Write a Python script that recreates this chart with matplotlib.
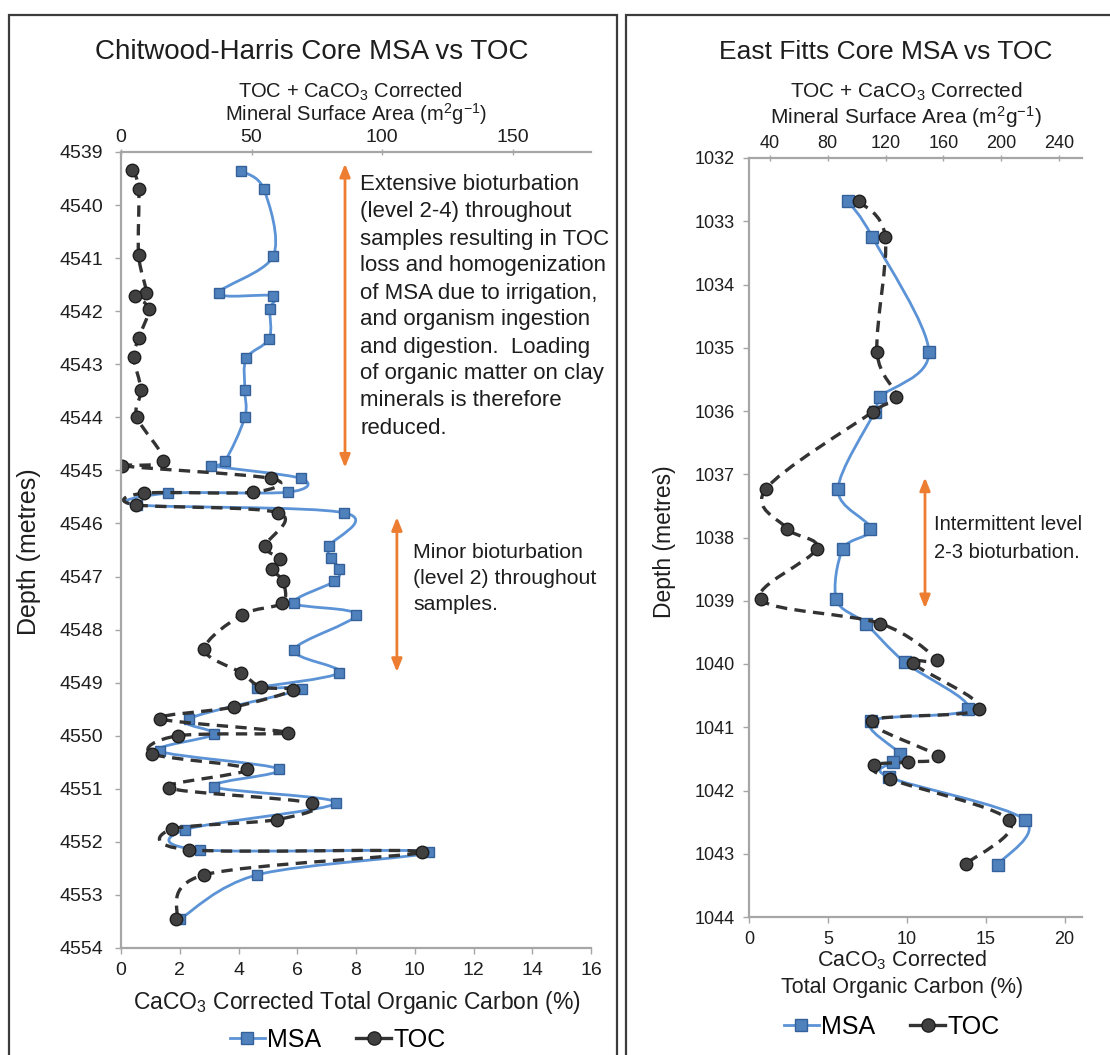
import numpy as np
import matplotlib
matplotlib.use('Agg')
import matplotlib.pyplot as plt
from matplotlib.path import Path
from matplotlib.patches import PathPatch, Rectangle
from matplotlib.lines import Line2D

plt.rcParams['font.family'] = ['Liberation Sans', 'DejaVu Sans']
plt.rcParams['mathtext.fontset'] = 'custom'
plt.rcParams['mathtext.rm'] = 'Liberation Sans'
plt.rcParams['mathtext.it'] = 'Liberation Sans:italic'

# ---------------- Data: Chitwood-Harris core ----------------
ch_msa_depth = [4539.35, 4539.70, 4540.96, 4541.66, 4541.71, 4541.96, 4542.52, 4542.89,
                4543.48, 4544.00, 4544.83, 4544.91, 4545.15, 4545.41, 4545.43, 4545.65,
                4545.80, 4546.43, 4546.65, 4546.86, 4547.09, 4547.50, 4547.72, 4548.38,
                4548.81, 4549.10, 4549.12, 4549.68, 4549.97, 4550.29, 4550.63, 4550.96,
                4551.27, 4551.77, 4552.15, 4552.19, 4552.62, 4553.45]
ch_msa = [45.8, 54.7, 58.3, 37.4, 58.3, 57.0, 56.7, 48.0,
          47.4, 47.4, 39.7, 34.6, 68.8, 64.0, 18.0, 6.0,
          85.5, 79.7, 80.4, 83.6, 81.7, 66.3, 90.0, 66.3,
          83.6, 52.2, 69.5, 25.9, 35.5, 15.0, 60.5, 35.5,
          82.3, 24.6, 30.4, 118.1, 52.2, 22.7]
ch_toc_depth = [4539.33, 4539.70, 4540.94, 4541.66, 4541.71, 4541.96, 4542.51, 4542.87,
                4543.48, 4543.99, 4544.82, 4544.91, 4545.15, 4545.41, 4545.43, 4545.65,
                4545.80, 4546.43, 4546.67, 4546.86, 4547.09, 4547.50, 4547.72, 4548.37,
                4548.81, 4549.08, 4549.14, 4549.46, 4549.68, 4549.94, 4550.00, 4550.34,
                4550.63, 4550.98, 4551.27, 4551.58, 4551.76, 4552.15, 4552.19, 4552.62,
                4553.45]
ch_toc = [0.37, 0.60, 0.60, 0.86, 0.49, 0.94, 0.60, 0.43,
          0.68, 0.54, 1.43, 0.02, 5.10, 4.51, 0.77, 0.52,
          5.36, 4.91, 5.42, 5.14, 5.51, 5.48, 4.12, 2.84,
          4.08, 4.77, 5.85, 3.83, 1.34, 5.67, 1.94, 1.05,
          4.29, 1.62, 6.49, 5.31, 1.73, 2.33, 10.25, 2.84,
          1.88]

# ---------------- Data: East Fitts core ----------------
ef_msa_depth = [1032.68, 1033.25, 1035.06, 1035.78, 1036.01, 1037.24, 1037.86, 1038.18,
                1038.98, 1039.36, 1039.97, 1040.71, 1040.90, 1041.42, 1041.55, 1041.79,
                1042.46, 1043.17]
ef_msa = [94.0, 110.9, 150.0, 115.9, 112.5, 87.1, 109.5, 90.5,
          86.0, 106.2, 133.2, 177.0, 110.2, 129.8, 125.1, 122.4,
          216.3, 197.8]
ef_toc_depth = [1032.68, 1033.25, 1035.06, 1035.78, 1036.01, 1037.24, 1037.86, 1038.18,
                1038.98, 1039.36, 1039.94, 1039.99, 1040.71, 1040.90, 1041.46, 1041.55,
                1041.60, 1041.82, 1042.47, 1043.16]
ef_toc = [6.95, 8.64, 8.11, 9.33, 7.86, 1.05, 2.43, 4.28,
          0.74, 8.32, 11.9, 10.4, 14.6, 7.8, 12.0, 10.1,
          7.9, 8.95, 16.5, 13.75]

ch_yticks = list(range(4539, 4555))
ch_xticks = list(range(0, 17, 2))
ch_top_ticks = [0, 50, 100, 150]
ef_yticks = list(range(1032, 1045))
ef_xticks = [0, 5, 10, 15, 20]
ef_top_ticks = [40, 80, 120, 160, 200, 240]

note1 = ["Extensive bioturbation", "(level 2-4) throughout", "samples resulting in TOC",
         "loss and homogenization", "of MSA due to irrigation,", "and organism ingestion",
         "and digestion.  Loading", "of organic matter on clay", "minerals is therefore",
         "reduced."]
note2 = ["Minor bioturbation", "(level 2) throughout", "samples."]
note3 = ["Intermittent level", "2-3 bioturbation."]

# ---------------- Styles ----------------
W, H = 1110, 1055
BLUE_LINE = '#5B93D6'
BLUE_FILL = '#4F81BD'
BLUE_EDGE = '#35619A'
DARK_FILL = '#404040'
DARK_EDGE = '#1E1E1E'
DARK_LINE = '#333333'
SPINE = '#A6A6A6'
ORANGE = '#ED7D31'
TXT = '#1E1E1E'

fig = plt.figure(figsize=(W / 100, H / 100), dpi=100)


def fx(x):
    return x / W


def fy(y):
    return 1 - y / H


def smooth_path(xs, ys):
    P = np.column_stack([xs, ys]).astype(float)
    n = len(P)
    verts = [P[0]]
    codes = [Path.MOVETO]
    for i in range(n - 1):
        p0 = P[i - 1] if i > 0 else P[i]
        p1 = P[i]
        p2 = P[i + 1]
        p3 = P[i + 2] if i + 2 < n else P[i + 1]
        verts += [p1 + (p2 - p0) / 6.0, p2 - (p3 - p1) / 6.0, p2]
        codes += [Path.CURVE4] * 3
    return Path(verts, codes)


def make_panel(rect_px, ylim, xlim, xlim_top, yticks, xticks, top_ticks,
               msa_d, msa_v, toc_d, toc_v, ms_sq, ms_c, lsize, ypad):
    x0, y0, x1, y1 = rect_px
    ax = fig.add_axes([fx(x0), fy(y1), (x1 - x0) / W, (y1 - y0) / H])
    axt = ax.twiny()
    ax.set_zorder(axt.get_zorder() + 1)
    ax.patch.set_visible(False)
    ax.set_ylim(*ylim)
    ax.set_xlim(*xlim)
    axt.set_xlim(*xlim_top)

    # MSA on top axis
    axt.add_patch(PathPatch(smooth_path(msa_v, msa_d), fill=False, ec=BLUE_LINE,
                            lw=2.0, capstyle='round', joinstyle='round'))
    axt.plot(msa_v, msa_d, ls='none', marker='s', ms=ms_sq, mfc=BLUE_FILL,
             mec=BLUE_EDGE, mew=1.0)
    # TOC on bottom axis
    ax.add_patch(PathPatch(smooth_path(toc_v, toc_d), fill=False, ec=DARK_LINE,
                           lw=2.4, ls=(0, (3.4, 2.2))))
    ax.plot(toc_v, toc_d, ls='none', marker='o', ms=ms_c, mfc=DARK_FILL,
            mec=DARK_EDGE, mew=1.0)

    ax.set_yticks(yticks)
    ax.set_xticks(xticks)
    axt.set_xticks(top_ticks)
    for a in (ax, axt):
        for s in a.spines.values():
            s.set_visible(False)
    ax.spines['left'].set_visible(True)
    ax.spines['bottom'].set_visible(True)
    axt.spines['top'].set_visible(True)
    for s in (ax.spines['left'], ax.spines['bottom'], axt.spines['top']):
        s.set_color(SPINE)
        s.set_linewidth(1.6)
    ax.tick_params(axis='y', direction='out', length=4, width=1, color=SPINE,
                   pad=ypad, labelsize=lsize, labelcolor=TXT)
    ax.tick_params(axis='x', direction='out', length=4, width=1, color=SPINE,
                   pad=6, labelsize=lsize, labelcolor=TXT)
    axt.tick_params(axis='x', direction='inout', length=5, width=1, color=SPINE,
                    pad=2, labelsize=lsize, labelcolor=TXT)
    return ax, axt


# ---------------- Left panel ----------------
axL, axLt = make_panel((121, 152, 591, 948), (4554, 4539), (0, 16), (0, 180),
                       ch_yticks, ch_xticks, ch_top_ticks,
                       ch_msa_depth, ch_msa, ch_toc_depth, ch_toc, 7.5, 9.0, 14, 9)

# ---------------- Right panel ----------------
axR, axRt = make_panel((749, 158, 1082, 917), (1044, 1032), (0, 21.1), (25.5, 256),
                       ef_yticks, ef_xticks, ef_top_ticks,
                       ef_msa_depth, ef_msa, ef_toc_depth, ef_toc, 8.5, 9.0, 13, 6)

# ---------------- Arrows ----------------
arrow_kw = dict(arrowstyle='<|-|>,head_length=0.55,head_width=0.22', color=ORANGE,
                lw=2.0, shrinkA=0, shrinkB=0, mutation_scale=14)
axL.annotate('', xy=(0.4766, 4539.22), xytext=(0.4766, 4544.95),
             xycoords=axL.get_yaxis_transform(), textcoords=axL.get_yaxis_transform(),
             arrowprops=arrow_kw)
axL.annotate('', xy=(0.587, 4545.88), xytext=(0.587, 4548.80),
             xycoords=axL.get_yaxis_transform(), textcoords=axL.get_yaxis_transform(),
             arrowprops=arrow_kw)
axR.annotate('', xy=(0.5285, 1037.05), xytext=(0.5285, 1039.12),
             xycoords=axR.get_yaxis_transform(), textcoords=axR.get_yaxis_transform(),
             arrowprops=arrow_kw)

# ---------------- Notes ----------------
for i, line in enumerate(note1):
    fig.text(fx(360), fy(185 + 27 * i), line, fontsize=16, color=TXT, ha='left', va='center')
for i, line in enumerate(note2):
    fig.text(fx(413), fy(552 + 26 * i), line, fontsize=15.3, color=TXT, ha='left', va='center')
for i, line in enumerate(note3):
    fig.text(fx(934), fy(524 + 28 * i), line, fontsize=14.5, color=TXT, ha='left', va='center')

# ---------------- Titles and axis labels ----------------
fig.text(fx(312), fy(52), "Chitwood-Harris Core MSA vs TOC", fontsize=20, color=TXT,
         ha='center', va='center')
fig.text(fx(886), fy(52), "East Fitts Core MSA vs TOC", fontsize=19, color=TXT,
         ha='center', va='center')

top1 = r"TOC + CaCO$_\mathregular{3}$ Corrected"
top2 = r"Mineral Surface Area (m$^\mathregular{2}$g$^\mathregular{-1}$)"
fig.text(fx(350), fy(92), top1, fontsize=14.5, color=TXT, ha='center', va='center')
fig.text(fx(356), fy(114), top2, fontsize=14.5, color=TXT, ha='center', va='center')
fig.text(fx(906), fy(92), top1, fontsize=15, color=TXT, ha='center', va='center')
fig.text(fx(906), fy(117), top2, fontsize=15, color=TXT, ha='center', va='center')

fig.text(fx(357), fy(1002), r"CaCO$_\mathregular{3}$ Corrected Total Organic Carbon (%)",
         fontsize=16.5, color=TXT, ha='center', va='center')
fig.text(fx(902), fy(960), r"CaCO$_\mathregular{3}$ Corrected", fontsize=15.5, color=TXT,
         ha='center', va='center')
fig.text(fx(902), fy(988), "Total Organic Carbon (%)", fontsize=15.5, color=TXT,
         ha='center', va='center')

fig.text(fx(29), fy(552), "Depth (metres)", fontsize=18, color=TXT, rotation=90,
         ha='center', va='center')
fig.text(fx(664), fy(542), "Depth (metres)", fontsize=16.5, color=TXT, rotation=90,
         ha='center', va='center')

# ---------------- Legends ----------------
h_msa = Line2D([], [], color=BLUE_LINE, lw=2.0, marker='s', ms=8.5, mfc=BLUE_FILL, mec=BLUE_EDGE)
h_toc = Line2D([], [], color=DARK_LINE, lw=2.4, marker='o', ms=9.5, mfc=DARK_FILL, mec=DARK_EDGE)
for cx, cy in ((338, 1040), (892, 1027)):
    fig.legend([h_msa, h_toc], ["MSA", "TOC"], loc='center', bbox_to_anchor=(fx(cx), fy(cy)),
               ncol=2, frameon=False, fontsize=18, handlelength=1.4, handletextpad=0.1,
               columnspacing=1.4, borderpad=0)

# ---------------- Panel frames ----------------
fig.patches.append(Rectangle((fx(9), -0.02), (617 - 9) / W, fy(15) + 0.02, transform=fig.transFigure,
                             fill=False, ec='#3C3C3C', lw=1.6, zorder=0))
fig.patches.append(Rectangle((fx(626), -0.02), 0.5, fy(15) + 0.02, transform=fig.transFigure,
                             fill=False, ec='#3C3C3C', lw=1.6, zorder=0))

fig.savefig('out.png', dpi=100, facecolor='white')
